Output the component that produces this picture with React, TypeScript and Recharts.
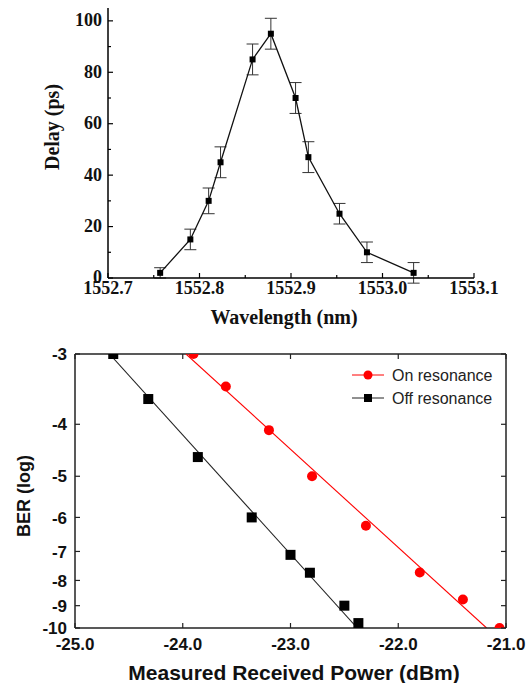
import {
  ComposedChart,
  Line,
  Scatter,
  XAxis,
  YAxis,
  ErrorBar,
  ReferenceLine,
  Legend,
} from 'recharts'

// ---- top panel: delay vs wavelength ----
const WAVELENGTH = [1552.757, 1552.79, 1552.81, 1552.823, 1552.858, 1552.878, 1552.905, 1552.919, 1552.953, 1552.983, 1553.034]
const DELAY = [2, 15, 30, 45, 85, 95, 70, 47, 25, 10, 2]
const DELAY_ERR = [2, 4, 5, 6, 6, 6, 6, 6, 4, 4, 4]
const WL_TICKS = [1552.7, 1552.75, 1552.8, 1552.85, 1552.9, 1552.95, 1553.0, 1553.05, 1553.1]
const DELAY_TICKS = [0, 10, 20, 30, 40, 50, 60, 70, 80, 90, 100]

// ---- bottom panel: BER vs received power ----
const ON_POWER = [-23.9, -23.6, -23.2, -22.8, -22.3, -21.8, -21.4, -21.06]
const ON_BER = [-3.0, -3.42, -4.1, -5.0, -6.23, -7.71, -8.74, -10.0]
const OFF_POWER = [-24.645, -24.32, -23.86, -23.36, -23.0, -22.82, -22.5, -22.37]
const OFF_BER = [-3.0, -3.6, -4.6, -6.0, -7.11, -7.72, -9.0, -9.77]
const ON_FIT_POWER = [-23.97, -21.18]
const ON_FIT_BER = [-3, -10]
const OFF_FIT_POWER = [-24.68, -22.38]
const OFF_FIT_BER = [-3, -10]
const POWER_TICKS = [-25, -24, -23, -22, -21]
const BER_TICKS = [-3, -4, -5, -6, -7, -8, -9, -10]

const SERIF = '"Liberation Serif", "Times New Roman", serif'
const SANS = '"Liberation Sans", Arial, sans-serif'
const RED = '#ff0000'

// BER axis is the usual "Q" scale: log of Q where BER = 0.5 erfc(Q / sqrt 2)
function erfc(x: number) {
  const z = Math.abs(x)
  const t = 1 / (1 + 0.5 * z)
  const r = t * Math.exp(-z * z - 1.26551223 + t * (1.00002368 + t * (0.37409196 + t * (0.09678418 +
    t * (-0.18628806 + t * (0.27886807 + t * (-1.13520398 + t * (1.48851587 + t * (-0.82215223 + t * 0.17087277)))))))))
  return x >= 0 ? r : 2 - r
}
function qOf(logBer: number) {
  const target = Math.pow(10, logBer)
  let lo = 0
  let hi = 12
  for (let i = 0; i < 80; i++) {
    const mid = (lo + hi) / 2
    if (0.5 * erfc(mid / Math.SQRT2) > target) lo = mid
    else hi = mid
  }
  return (lo + hi) / 2
}

const delayData = WAVELENGTH.map((w, i) => ({ w, delay: DELAY[i], err: DELAY_ERR[i] }))
const toPts = (p: number[], b: number[]) => p.map((v, i) => ({ p: v, q: qOf(b[i]) }))
const onData = toPts(ON_POWER, ON_BER)
const offData = toPts(OFF_POWER, OFF_BER)
const onFit = toPts(ON_FIT_POWER, ON_FIT_BER)
const offFit = toPts(OFF_FIT_POWER, OFF_FIT_BER)
const berTickQ = BER_TICKS.map(qOf)

// layout
const W = 532
const TOP_H = 335
const BOT_H = 348
const BOT_M = { top: 19, right: 26, bottom: 25, left: 15 }
const BOT_TOP = BOT_M.top
const BOT_RIGHT = W - BOT_M.right

const WlTick = (props: any) => {
  const { x, y, payload, index } = props
  const major = index % 2 === 0
  return (
    <g>
      <line x1={x} y1={y} x2={x} y2={y - (major ? 5 : 3)} stroke="#000" strokeWidth={1.2} />
      {major && (
        <text x={x} y={y + 16} textAnchor="middle" fontFamily={SERIF} fontWeight="bold" fontSize={18} fill="#111">
          {Number(payload.value).toFixed(1)}
        </text>
      )}
    </g>
  )
}

const DelayTick = (props: any) => {
  const { x, y, payload } = props
  const major = payload.value % 20 === 0
  return (
    <g>
      <line x1={x} y1={y} x2={x + (major ? 5 : 3)} y2={y} stroke="#000" strokeWidth={1.2} />
      {major && (
        <text x={x - 6} y={y} dy="0.3em" textAnchor="end" fontFamily={SERIF} fontWeight="bold" fontSize={18} fill="#111">
          {payload.value}
        </text>
      )}
    </g>
  )
}

const SquareDot = (p: any) => (
  <rect key={p.index} x={p.cx - 3} y={p.cy - 3} width={6} height={6} fill="#000" />
)

const PowerTick = (props: any) => {
  const { x, y, payload } = props
  return (
    <g>
      <line x1={x} y1={y} x2={x} y2={y - 5} stroke="#222" strokeWidth={1.2} />
      <line x1={x} y1={BOT_TOP} x2={x} y2={BOT_TOP + 5} stroke="#222" strokeWidth={1.2} />
      <text x={x} y={y + 22} textAnchor="middle" fontFamily={SANS} fontWeight="bold" fontSize={17} fill="#111">
        {Number(payload.value).toFixed(1)}
      </text>
    </g>
  )
}

const BerTick = (props: any) => {
  const { x, y, payload } = props
  let k = 0
  berTickQ.forEach((q, i) => {
    if (Math.abs(q - payload.value) < Math.abs(berTickQ[k] - payload.value)) k = i
  })
  return (
    <g>
      <line x1={x} y1={y} x2={x + 5} y2={y} stroke="#222" strokeWidth={1.2} />
      <line x1={BOT_RIGHT} y1={y} x2={BOT_RIGHT - 5} y2={y} stroke="#222" strokeWidth={1.2} />
      <text x={x - 8} y={y} dy="0.36em" textAnchor="end" fontFamily={SANS} fontWeight="bold" fontSize={17} fill="#111">
        {BER_TICKS[k]}
      </text>
    </g>
  )
}

const RedDot = (p: any) => <circle cx={p.cx} cy={p.cy} r={5} fill={RED} />
const BlackSquare = (p: any) => <rect x={p.cx - 5} y={p.cy - 5} width={10} height={10} fill="#000" />

const BerLegend = () => (
  <svg width={160} height={50}>
    <line x1={2} x2={34} y1={12} y2={12} stroke={RED} strokeWidth={1} />
    <circle cx={18} cy={12} r={4.5} fill={RED} />
    <text x={42} y={12} dy="0.35em" fontSize={16} fontFamily={SANS} fill="#222">On resonance</text>
    <line x1={2} x2={34} y1={35} y2={35} stroke="#222" strokeWidth={1} />
    <rect x={14} y={31} width={8} height={8} fill="#000" />
    <text x={42} y={35} dy="0.35em" fontSize={16} fontFamily={SANS} fill="#222">Off resonance</text>
  </svg>
)

const vTitle = (text: string, font: string, size: number, dx: number, dy: number) => (props: any) => {
  const { viewBox } = props
  const cx = viewBox.x + dx
  const cy = viewBox.y + viewBox.height / 2 + dy
  return (
    <text transform={`translate(${cx},${cy}) rotate(-90)`} textAnchor="middle" dominantBaseline="central"
      fontFamily={font} fontWeight="bold" fontSize={size} fill="#111">
      {text}
    </text>
  )
}

const hTitle = (text: string, font: string, size: number, dx: number, dy: number) => (props: any) => {
  const { viewBox } = props
  return (
    <text x={viewBox.x + viewBox.width / 2 + dx} y={viewBox.y + dy} textAnchor="middle"
      fontFamily={font} fontWeight="bold" fontSize={size} fill="#111">
      {text}
    </text>
  )
}

export default function App() {
  return (
    <div style={{ position: 'absolute', left: 0, top: 0, width: W, height: TOP_H + BOT_H, background: '#fff' }}>
      {/* Delay vs wavelength */}
      <div style={{ position: 'absolute', left: 0, top: 0 }}>
        <ComposedChart width={W} height={TOP_H} data={delayData} margin={{ top: 8, right: 58, bottom: 27, left: 48 }}>
          <XAxis
            dataKey="w"
            type="number"
            domain={[1552.7, 1553.1]}
            ticks={WL_TICKS}
            interval={0}
            allowDataOverflow
            tick={WlTick}
            tickLine={false}
            tickSize={0}
            tickMargin={0}
            axisLine={{ stroke: '#000', strokeWidth: 1.5 }}
            height={30}
            label={{ content: hTitle('Wavelength (nm)', SERIF, 20, -7, 46) }}
          />
          <YAxis
            type="number"
            domain={[0, 105]}
            ticks={DELAY_TICKS}
            interval={0}
            allowDataOverflow
            tick={DelayTick}
            tickLine={false}
            tickSize={0}
            tickMargin={0}
            axisLine={{ stroke: '#000', strokeWidth: 1.5 }}
            width={60}
            label={{ content: vTitle('Delay (ps)', SERIF, 20, 4, -16) }}
          />
          <Line
            dataKey="delay"
            type="linear"
            stroke="#111"
            strokeWidth={1.3}
            dot={SquareDot}
            activeDot={false}
            isAnimationActive={false}
          >
            <ErrorBar dataKey="err" width={6} stroke="#333" strokeWidth={1} direction="y" />
          </Line>
        </ComposedChart>
      </div>

      {/* BER vs received power */}
      <div style={{ position: 'absolute', left: 0, top: TOP_H }}>
        <ComposedChart width={W} height={BOT_H} margin={BOT_M}>
          <XAxis
            dataKey="p"
            type="number"
            domain={[-25, -21]}
            ticks={POWER_TICKS}
            interval={0}
            allowDataOverflow
            tick={PowerTick}
            tickLine={false}
            tickSize={0}
            tickMargin={0}
            axisLine={{ stroke: '#222', strokeWidth: 1.5 }}
            height={30}
            label={{ content: hTitle('Measured Received Power (dBm)', SANS, 21, 3.5, 52) }}
          />
          <YAxis
            dataKey="q"
            type="number"
            scale="log"
            reversed
            domain={[berTickQ[0], berTickQ[berTickQ.length - 1]]}
            ticks={berTickQ}
            interval={0}
            allowDataOverflow
            tick={BerTick}
            tickLine={false}
            tickSize={0}
            tickMargin={0}
            axisLine={{ stroke: '#222', strokeWidth: 1.5 }}
            width={60}
            label={{ content: vTitle('BER (log)', SANS, 18, 9, 5) }}
          />
          <ReferenceLine y={berTickQ[0]} stroke="#222" strokeWidth={1.5} ifOverflow="visible" />
          <ReferenceLine x={-21} stroke="#222" strokeWidth={1.5} ifOverflow="visible" />
          <Line data={onFit} dataKey="q" type="linear" stroke={RED} strokeWidth={1.1} dot={false} activeDot={false} isAnimationActive={false} />
          <Line data={offFit} dataKey="q" type="linear" stroke="#222" strokeWidth={1.1} dot={false} activeDot={false} isAnimationActive={false} />
          <Scatter data={onData} dataKey="q" shape={RedDot} isAnimationActive={false} />
          <Scatter data={offData} dataKey="q" shape={BlackSquare} isAnimationActive={false} />
          <Legend
            layout="horizontal"
            verticalAlign="middle"
            align="center"
            content={BerLegend}
            wrapperStyle={{ left: 350, top: 28, width: 160, height: 50 }}
          />
        </ComposedChart>
      </div>
    </div>
  )
}
